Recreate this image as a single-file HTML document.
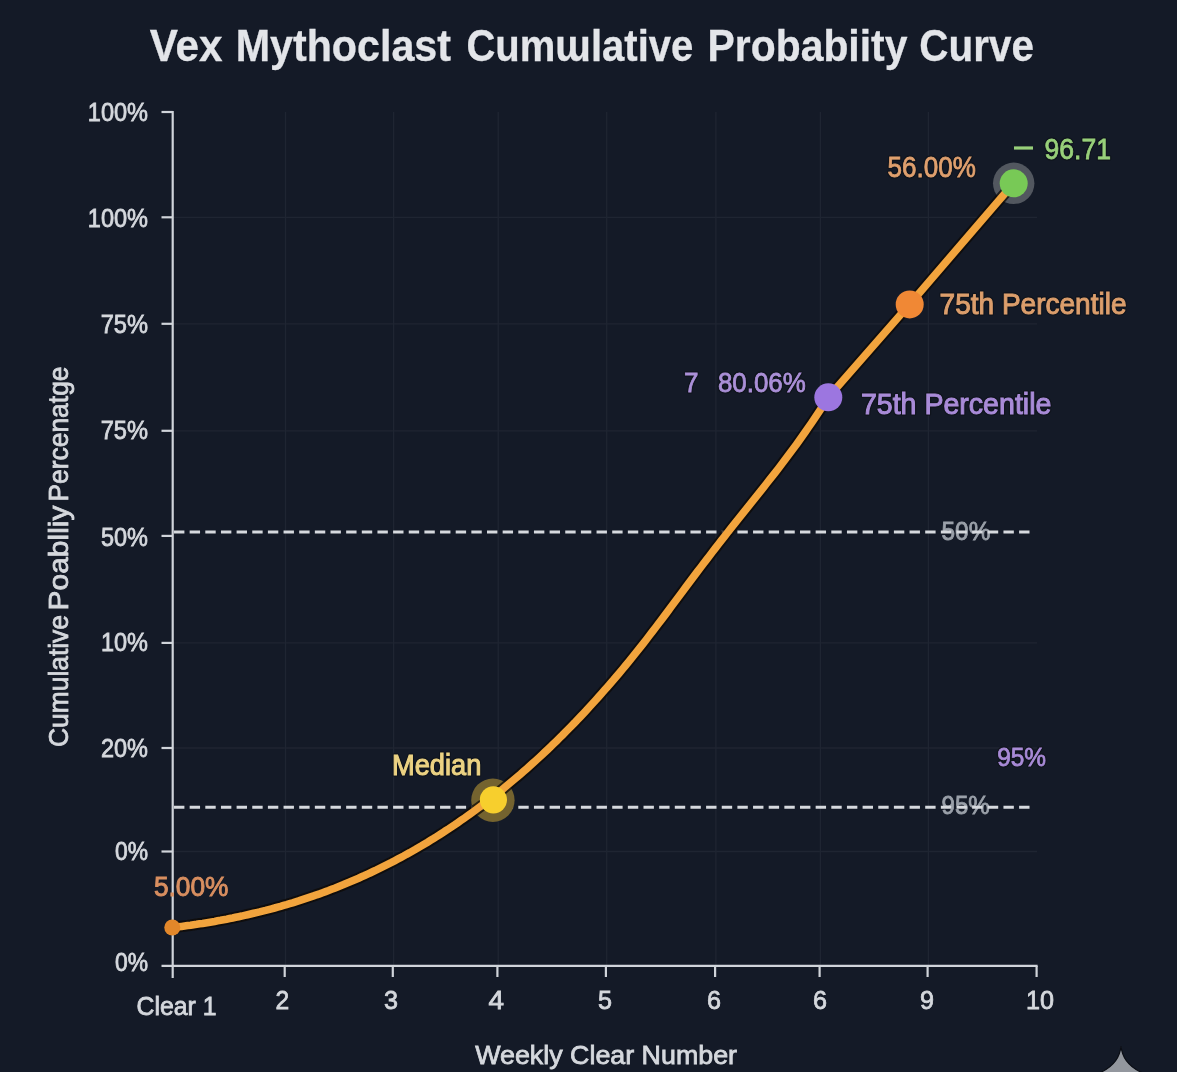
<!DOCTYPE html><html><head><meta charset="utf-8"><style>
html,body{margin:0;padding:0;background:#141a27;width:1177px;height:1072px;overflow:hidden}
svg{display:block;will-change:transform}text{font-family:"Liberation Sans",sans-serif}
</style></head><body>
<svg width="1177" height="1072" viewBox="0 0 1177 1072">
<rect width="1177" height="1072" fill="#141a27"/>
<line x1="172.7" y1="217.3" x2="1037" y2="217.3" stroke="#1f2532" stroke-width="1.3"/>
<line x1="172.7" y1="323.8" x2="1037" y2="323.8" stroke="#1f2532" stroke-width="1.3"/>
<line x1="172.7" y1="430.8" x2="1037" y2="430.8" stroke="#1f2532" stroke-width="1.3"/>
<line x1="172.7" y1="642.9" x2="1037" y2="642.9" stroke="#1f2532" stroke-width="1.3"/>
<line x1="172.7" y1="748" x2="1037" y2="748" stroke="#1f2532" stroke-width="1.3"/>
<line x1="172.7" y1="851.5" x2="1037" y2="851.5" stroke="#1f2532" stroke-width="1.3"/>
<line x1="285.5" y1="112" x2="285.5" y2="965.9" stroke="#1f2532" stroke-width="1.3"/>
<line x1="393.6" y1="112" x2="393.6" y2="965.9" stroke="#1f2532" stroke-width="1.3"/>
<line x1="498.2" y1="112" x2="498.2" y2="965.9" stroke="#1f2532" stroke-width="1.3"/>
<line x1="606.6999999999999" y1="112" x2="606.6999999999999" y2="965.9" stroke="#1f2532" stroke-width="1.3"/>
<line x1="715.9" y1="112" x2="715.9" y2="965.9" stroke="#1f2532" stroke-width="1.3"/>
<line x1="820.4" y1="112" x2="820.4" y2="965.9" stroke="#1f2532" stroke-width="1.3"/>
<line x1="928.4" y1="112" x2="928.4" y2="965.9" stroke="#1f2532" stroke-width="1.3"/>
<line x1="172.7" y1="111" x2="172.7" y2="978" stroke="#d0d4da" stroke-width="2.2"/>
<line x1="161.5" y1="965.9" x2="1037.6" y2="965.9" stroke="#d0d4da" stroke-width="2.2"/>
<line x1="161.5" y1="112" x2="172.7" y2="112" stroke="#d0d4da" stroke-width="2.2"/>
<line x1="161.5" y1="217.3" x2="172.7" y2="217.3" stroke="#d0d4da" stroke-width="2.2"/>
<line x1="161.5" y1="323.8" x2="172.7" y2="323.8" stroke="#d0d4da" stroke-width="2.2"/>
<line x1="161.5" y1="430.8" x2="172.7" y2="430.8" stroke="#d0d4da" stroke-width="2.2"/>
<line x1="161.5" y1="535.9" x2="172.7" y2="535.9" stroke="#d0d4da" stroke-width="2.2"/>
<line x1="161.5" y1="642.9" x2="172.7" y2="642.9" stroke="#d0d4da" stroke-width="2.2"/>
<line x1="161.5" y1="748" x2="172.7" y2="748" stroke="#d0d4da" stroke-width="2.2"/>
<line x1="161.5" y1="851.5" x2="172.7" y2="851.5" stroke="#d0d4da" stroke-width="2.2"/>
<line x1="284.7" y1="965.9" x2="284.7" y2="977" stroke="#d0d4da" stroke-width="2.2"/>
<line x1="392.8" y1="965.9" x2="392.8" y2="977" stroke="#d0d4da" stroke-width="2.2"/>
<line x1="497.4" y1="965.9" x2="497.4" y2="977" stroke="#d0d4da" stroke-width="2.2"/>
<line x1="605.9" y1="965.9" x2="605.9" y2="977" stroke="#d0d4da" stroke-width="2.2"/>
<line x1="715.1" y1="965.9" x2="715.1" y2="977" stroke="#d0d4da" stroke-width="2.2"/>
<line x1="819.6" y1="965.9" x2="819.6" y2="977" stroke="#d0d4da" stroke-width="2.2"/>
<line x1="927.6" y1="965.9" x2="927.6" y2="977" stroke="#d0d4da" stroke-width="2.2"/>
<line x1="1036.6" y1="965.9" x2="1036.6" y2="977" stroke="#d0d4da" stroke-width="2.2"/>
<text x="941.5" y="540.1" font-size="25.5" fill="#9aa0a9" font-weight="normal" textLength="48.9" lengthAdjust="spacingAndGlyphs" stroke="#9aa0a9" stroke-width="0.8" >50%</text>
<text x="941.5" y="814.3" font-size="25.5" fill="#9aa0a9" font-weight="normal" textLength="48.2" lengthAdjust="spacingAndGlyphs" stroke="#9aa0a9" stroke-width="0.8" >95%</text>
<line x1="174" y1="532" x2="1031" y2="532" stroke="#d6d9de" stroke-width="3" stroke-dasharray="10.4 5.25"/>
<line x1="174" y1="807.2" x2="1031" y2="807.2" stroke="#d6d9de" stroke-width="3" stroke-dasharray="10.4 5.25"/>
<text x="149.7" y="60.5" font-size="44.5" fill="#e3e5e9" font-weight="bold" textLength="72.9" lengthAdjust="spacingAndGlyphs" stroke="#e3e5e9" stroke-width="0.3" >Vex</text>
<text x="235.7" y="60.5" font-size="44.5" fill="#e3e5e9" font-weight="bold" textLength="215.3" lengthAdjust="spacingAndGlyphs" stroke="#e3e5e9" stroke-width="0.3" >Mythoclast</text>
<text x="466.4" y="60.5" font-size="44.5" fill="#e3e5e9" font-weight="bold" textLength="226.9" lengthAdjust="spacingAndGlyphs" stroke="#e3e5e9" stroke-width="0.3" >Cumɯlative</text>
<text x="707.6" y="60.5" font-size="44.5" fill="#e3e5e9" font-weight="bold" textLength="199.8" lengthAdjust="spacingAndGlyphs" stroke="#e3e5e9" stroke-width="0.3" >Probabiity</text>
<text x="919.3" y="60.5" font-size="44.5" fill="#e3e5e9" font-weight="bold" textLength="114.6" lengthAdjust="spacingAndGlyphs" stroke="#e3e5e9" stroke-width="0.3" >Curve</text>
<text x="87.8" y="120.5" font-size="25.5" fill="#d5d8dd" font-weight="normal" textLength="60.2" lengthAdjust="spacingAndGlyphs" stroke="#d5d8dd" stroke-width="0.8" >100%</text>
<text x="87.8" y="226.9" font-size="25.5" fill="#d5d8dd" font-weight="normal" textLength="60.2" lengthAdjust="spacingAndGlyphs" stroke="#d5d8dd" stroke-width="0.8" >100%</text>
<text x="100.7" y="332.9" font-size="25.5" fill="#d5d8dd" font-weight="normal" textLength="47.3" lengthAdjust="spacingAndGlyphs" stroke="#d5d8dd" stroke-width="0.8" >75%</text>
<text x="100.7" y="439.2" font-size="25.5" fill="#d5d8dd" font-weight="normal" textLength="47.3" lengthAdjust="spacingAndGlyphs" stroke="#d5d8dd" stroke-width="0.8" >75%</text>
<text x="101.0" y="546.4" font-size="25.5" fill="#d5d8dd" font-weight="normal" textLength="47.0" lengthAdjust="spacingAndGlyphs" stroke="#d5d8dd" stroke-width="0.8" >50%</text>
<text x="101.0" y="651.3" font-size="25.5" fill="#d5d8dd" font-weight="normal" textLength="47.0" lengthAdjust="spacingAndGlyphs" stroke="#d5d8dd" stroke-width="0.8" >10%</text>
<text x="101.0" y="757.0" font-size="25.5" fill="#d5d8dd" font-weight="normal" textLength="47.0" lengthAdjust="spacingAndGlyphs" stroke="#d5d8dd" stroke-width="0.8" >20%</text>
<text x="115.0" y="859.9" font-size="25.5" fill="#d5d8dd" font-weight="normal" textLength="33.0" lengthAdjust="spacingAndGlyphs" stroke="#d5d8dd" stroke-width="0.8" >0%</text>
<text x="115.0" y="971.0" font-size="25.5" fill="#d5d8dd" font-weight="normal" textLength="33.0" lengthAdjust="spacingAndGlyphs" stroke="#d5d8dd" stroke-width="0.8" >0%</text>
<text x="136.5" y="1014.6" font-size="26" fill="#d5d8dd" font-weight="normal" textLength="80.0" lengthAdjust="spacingAndGlyphs" stroke="#d5d8dd" stroke-width="0.8" >Clear 1</text>
<text x="275.5" y="1008.7" font-size="26" fill="#d5d8dd" font-weight="normal" textLength="13.7" lengthAdjust="spacingAndGlyphs" stroke="#d5d8dd" stroke-width="0.8" >2</text>
<text x="384.1" y="1008.7" font-size="26" fill="#d5d8dd" font-weight="normal" textLength="14.0" lengthAdjust="spacingAndGlyphs" stroke="#d5d8dd" stroke-width="0.8" >3</text>
<text x="488.6" y="1008.7" font-size="26" fill="#d5d8dd" font-weight="normal" textLength="15.5" lengthAdjust="spacingAndGlyphs" stroke="#d5d8dd" stroke-width="0.8" >4</text>
<text x="598.0" y="1008.7" font-size="26" fill="#d5d8dd" font-weight="normal" textLength="14.0" lengthAdjust="spacingAndGlyphs" stroke="#d5d8dd" stroke-width="0.8" >5</text>
<text x="707.0" y="1008.7" font-size="26" fill="#d5d8dd" font-weight="normal" textLength="14.0" lengthAdjust="spacingAndGlyphs" stroke="#d5d8dd" stroke-width="0.8" >6</text>
<text x="813.0" y="1008.7" font-size="26" fill="#d5d8dd" font-weight="normal" textLength="14.0" lengthAdjust="spacingAndGlyphs" stroke="#d5d8dd" stroke-width="0.8" >6</text>
<text x="920.0" y="1008.7" font-size="26" fill="#d5d8dd" font-weight="normal" textLength="14.0" lengthAdjust="spacingAndGlyphs" stroke="#d5d8dd" stroke-width="0.8" >9</text>
<text x="1026.0" y="1008.7" font-size="26" fill="#d5d8dd" font-weight="normal" textLength="28.0" lengthAdjust="spacingAndGlyphs" stroke="#d5d8dd" stroke-width="0.8" >10</text>
<text x="475.2" y="1064.0" font-size="26" fill="#d5d8dd" font-weight="normal" textLength="261.8" lengthAdjust="spacingAndGlyphs" stroke="#d5d8dd" stroke-width="0.8" >Weekly Clear Number</text>
<text transform="translate(68.3,747) rotate(-90)" x="0" y="0" font-size="27.8" fill="#d5d8dd" stroke="#d5d8dd" stroke-width="0.8" textLength="132" lengthAdjust="spacingAndGlyphs">Cumulative</text>
<text transform="translate(68.3,610.5) rotate(-90)" x="0" y="0" font-size="27.8" fill="#d5d8dd" stroke="#d5d8dd" stroke-width="0.8" textLength="105" lengthAdjust="spacingAndGlyphs">Poablliy</text>
<text transform="translate(68.3,501.5) rotate(-90)" x="0" y="0" font-size="27.8" fill="#d5d8dd" stroke="#d5d8dd" stroke-width="0.8" textLength="135" lengthAdjust="spacingAndGlyphs">Percenatge</text>
<circle cx="492.9" cy="800.2" r="21.7" fill="#74632f"/>
<circle cx="1013.7" cy="183.3" r="20.7" fill="#52575f"/>
<path d="M172.6,927.5 L175.6,927.1 L178.6,926.8 L181.6,926.4 L184.6,926.0 L187.6,925.6 L190.6,925.2 L193.6,924.7 L196.6,924.3 L199.6,923.8 L202.6,923.4 L205.6,922.9 L208.6,922.4 L211.6,921.9 L214.6,921.4 L217.6,920.8 L220.6,920.3 L223.6,919.7 L226.6,919.2 L229.6,918.6 L232.6,918.0 L235.6,917.3 L238.6,916.7 L241.6,916.1 L244.6,915.4 L247.6,914.7 L250.6,914.0 L253.6,913.3 L256.6,912.6 L259.6,911.9 L262.6,911.1 L265.6,910.4 L268.6,909.6 L271.6,908.8 L274.6,908.0 L277.6,907.1 L280.6,906.3 L283.6,905.4 L286.6,904.6 L289.6,903.7 L292.6,902.8 L295.6,901.8 L298.6,900.9 L301.6,899.9 L304.6,898.9 L307.6,897.9 L310.6,896.9 L313.6,895.9 L316.6,894.8 L319.6,893.8 L322.6,892.7 L325.6,891.6 L328.6,890.5 L331.6,889.3 L334.6,888.2 L337.6,887.0 L340.6,885.8 L343.6,884.6 L346.6,883.3 L349.6,882.1 L352.6,880.8 L355.6,879.5 L358.6,878.2 L361.6,876.8 L364.6,875.5 L367.6,874.1 L370.6,872.7 L373.6,871.3 L376.6,869.9 L379.6,868.4 L382.6,866.9 L385.6,865.4 L388.6,863.9 L391.6,862.4 L394.6,860.8 L397.6,859.2 L400.6,857.6 L403.6,856.0 L406.6,854.3 L409.6,852.7 L412.6,851.0 L415.6,849.3 L418.6,847.5 L421.6,845.8 L424.6,844.0 L427.6,842.2 L430.6,840.3 L433.6,838.5 L436.6,836.6 L439.6,834.7 L442.6,832.8 L445.6,830.8 L448.6,828.9 L451.6,826.9 L454.6,824.9 L457.6,822.8 L460.6,820.7 L463.6,818.7 L466.6,816.5 L469.6,814.4 L472.6,812.2 L475.6,810.0 L478.6,807.8 L481.6,805.6 L484.6,803.3 L487.6,801.0 L490.6,798.7 L493.6,796.4 L496.6,794.0 L499.6,791.6 L502.6,789.2 L505.6,786.7 L508.6,784.2 L511.6,781.7 L514.6,779.2 L517.6,776.6 L520.6,774.1 L523.6,771.4 L526.6,768.8 L529.6,766.1 L532.6,763.4 L535.6,760.7 L538.6,758.0 L541.6,755.2 L544.6,752.4 L547.6,749.6 L550.6,746.7 L553.6,743.8 L556.6,740.9 L559.6,737.9 L562.6,735.0 L565.6,731.9 L568.6,728.9 L571.6,725.8 L574.6,722.8 L577.6,719.6 L580.6,716.5 L583.6,713.3 L586.6,710.1 L589.6,706.8 L592.6,703.5 L595.6,700.2 L598.6,696.9 L601.6,693.5 L604.6,690.1 L607.6,686.7 L610.6,683.2 L613.6,679.8 L616.6,676.2 L619.6,672.7 L622.6,669.1 L625.6,665.5 L628.6,661.8 L631.6,658.1 L634.6,654.4 L637.6,650.7 L640.6,646.9 L643.6,643.1 L646.6,639.2 L649.6,635.3 L652.6,631.4 L655.6,627.5 L658.6,623.5 L661.6,619.6 L664.6,615.6 L667.6,611.6 L670.6,607.5 L673.6,603.5 L676.6,599.5 L679.6,595.5 L682.6,591.4 L685.6,587.4 L688.6,583.4 L691.6,579.4 L694.6,575.4 L697.6,571.4 L700.6,567.5 L703.6,563.5 L706.6,559.6 L709.6,555.7 L712.6,551.8 L715.6,547.9 L718.6,544.0 L721.6,540.1 L724.6,536.3 L727.6,532.5 L730.6,528.7 L733.6,524.9 L736.6,521.1 L739.6,517.4 L742.6,513.6 L745.6,509.9 L748.6,506.1 L751.6,502.4 L754.6,498.6 L757.6,494.9 L760.6,491.1 L763.6,487.3 L766.6,483.5 L769.6,479.7 L772.6,475.9 L775.6,472.1 L778.6,468.2 L781.6,464.3 L784.6,460.3 L787.6,456.3 L790.6,452.3 L793.6,448.3 L796.6,444.2 L799.6,440.0 L802.6,435.8 L805.6,431.5 L808.6,427.2 L811.6,422.9 L814.6,418.4 L817.6,413.9 L820.6,409.4 L823.6,404.7 L826.6,400.0 L828.3,397.3 L909.7,304.2 L1013.7,183.2" fill="none" stroke="#0d0905" stroke-width="11.5" stroke-linecap="round" opacity="0.75"/>
<path d="M172.6,927.5 L175.6,927.1 L178.6,926.8 L181.6,926.4 L184.6,926.0 L187.6,925.6 L190.6,925.2 L193.6,924.7 L196.6,924.3 L199.6,923.8 L202.6,923.4 L205.6,922.9 L208.6,922.4 L211.6,921.9 L214.6,921.4 L217.6,920.8 L220.6,920.3 L223.6,919.7 L226.6,919.2 L229.6,918.6 L232.6,918.0 L235.6,917.3 L238.6,916.7 L241.6,916.1 L244.6,915.4 L247.6,914.7 L250.6,914.0 L253.6,913.3 L256.6,912.6 L259.6,911.9 L262.6,911.1 L265.6,910.4 L268.6,909.6 L271.6,908.8 L274.6,908.0 L277.6,907.1 L280.6,906.3 L283.6,905.4 L286.6,904.6 L289.6,903.7 L292.6,902.8 L295.6,901.8 L298.6,900.9 L301.6,899.9 L304.6,898.9 L307.6,897.9 L310.6,896.9 L313.6,895.9 L316.6,894.8 L319.6,893.8 L322.6,892.7 L325.6,891.6 L328.6,890.5 L331.6,889.3 L334.6,888.2 L337.6,887.0 L340.6,885.8 L343.6,884.6 L346.6,883.3 L349.6,882.1 L352.6,880.8 L355.6,879.5 L358.6,878.2 L361.6,876.8 L364.6,875.5 L367.6,874.1 L370.6,872.7 L373.6,871.3 L376.6,869.9 L379.6,868.4 L382.6,866.9 L385.6,865.4 L388.6,863.9 L391.6,862.4 L394.6,860.8 L397.6,859.2 L400.6,857.6 L403.6,856.0 L406.6,854.3 L409.6,852.7 L412.6,851.0 L415.6,849.3 L418.6,847.5 L421.6,845.8 L424.6,844.0 L427.6,842.2 L430.6,840.3 L433.6,838.5 L436.6,836.6 L439.6,834.7 L442.6,832.8 L445.6,830.8 L448.6,828.9 L451.6,826.9 L454.6,824.9 L457.6,822.8 L460.6,820.7 L463.6,818.7 L466.6,816.5 L469.6,814.4 L472.6,812.2 L475.6,810.0 L478.6,807.8 L481.6,805.6 L484.6,803.3 L487.6,801.0 L490.6,798.7 L493.6,796.4 L496.6,794.0 L499.6,791.6 L502.6,789.2 L505.6,786.7 L508.6,784.2 L511.6,781.7 L514.6,779.2 L517.6,776.6 L520.6,774.1 L523.6,771.4 L526.6,768.8 L529.6,766.1 L532.6,763.4 L535.6,760.7 L538.6,758.0 L541.6,755.2 L544.6,752.4 L547.6,749.6 L550.6,746.7 L553.6,743.8 L556.6,740.9 L559.6,737.9 L562.6,735.0 L565.6,731.9 L568.6,728.9 L571.6,725.8 L574.6,722.8 L577.6,719.6 L580.6,716.5 L583.6,713.3 L586.6,710.1 L589.6,706.8 L592.6,703.5 L595.6,700.2 L598.6,696.9 L601.6,693.5 L604.6,690.1 L607.6,686.7 L610.6,683.2 L613.6,679.8 L616.6,676.2 L619.6,672.7 L622.6,669.1 L625.6,665.5 L628.6,661.8 L631.6,658.1 L634.6,654.4 L637.6,650.7 L640.6,646.9 L643.6,643.1 L646.6,639.2 L649.6,635.3 L652.6,631.4 L655.6,627.5 L658.6,623.5 L661.6,619.6 L664.6,615.6 L667.6,611.6 L670.6,607.5 L673.6,603.5 L676.6,599.5 L679.6,595.5 L682.6,591.4 L685.6,587.4 L688.6,583.4 L691.6,579.4 L694.6,575.4 L697.6,571.4 L700.6,567.5 L703.6,563.5 L706.6,559.6 L709.6,555.7 L712.6,551.8 L715.6,547.9 L718.6,544.0 L721.6,540.1 L724.6,536.3 L727.6,532.5 L730.6,528.7 L733.6,524.9 L736.6,521.1 L739.6,517.4 L742.6,513.6 L745.6,509.9 L748.6,506.1 L751.6,502.4 L754.6,498.6 L757.6,494.9 L760.6,491.1 L763.6,487.3 L766.6,483.5 L769.6,479.7 L772.6,475.9 L775.6,472.1 L778.6,468.2 L781.6,464.3 L784.6,460.3 L787.6,456.3 L790.6,452.3 L793.6,448.3 L796.6,444.2 L799.6,440.0 L802.6,435.8 L805.6,431.5 L808.6,427.2 L811.6,422.9 L814.6,418.4 L817.6,413.9 L820.6,409.4 L823.6,404.7 L826.6,400.0 L828.3,397.3 L909.7,304.2 L1013.7,183.2" fill="none" stroke="#f2a43d" stroke-width="7.6" stroke-linecap="round"/>
<circle cx="172.3" cy="927.5" r="8" fill="#e2872a"/>
<circle cx="493.4" cy="799.8" r="13.6" fill="#f7cf2d"/>
<circle cx="828.3" cy="397.3" r="14" fill="#9c76e0"/>
<circle cx="909.7" cy="304.4" r="14" fill="#f08835"/>
<circle cx="1013.7" cy="183.3" r="14" fill="#78c956"/>
<text x="153.9" y="896.2" font-size="27" fill="#d98f60" font-weight="normal" textLength="74.5" lengthAdjust="spacingAndGlyphs" stroke="#d98f60" stroke-width="0.9" >5.00%</text>
<text x="392.0" y="774.7" font-size="29" fill="#0f131b" font-weight="normal" textLength="89.3" lengthAdjust="spacingAndGlyphs" stroke="#0f131b" stroke-width="3.5" stroke-linejoin="round" opacity="0.85">Median</text>
<text x="392.0" y="774.7" font-size="29" fill="#ecd283" font-weight="normal" textLength="89.3" lengthAdjust="spacingAndGlyphs" stroke="#ecd283" stroke-width="1.1" >Median</text>
<text x="684.0" y="391.6" font-size="27.5" fill="#0f131b" font-weight="normal" textLength="14.5" lengthAdjust="spacingAndGlyphs" stroke="#0f131b" stroke-width="3.5" stroke-linejoin="round" opacity="0.85">7</text>
<text x="684.0" y="391.6" font-size="27.5" fill="#ab90d8" font-weight="normal" textLength="14.5" lengthAdjust="spacingAndGlyphs" stroke="#ab90d8" stroke-width="0.8" >7</text>
<text x="717.9" y="391.6" font-size="27.5" fill="#0f131b" font-weight="normal" textLength="87.9" lengthAdjust="spacingAndGlyphs" stroke="#0f131b" stroke-width="3.5" stroke-linejoin="round" opacity="0.85">80.06%</text>
<text x="717.9" y="391.6" font-size="27.5" fill="#ab90d8" font-weight="normal" textLength="87.9" lengthAdjust="spacingAndGlyphs" stroke="#ab90d8" stroke-width="0.8" >80.06%</text>
<text x="860.9" y="413.8" font-size="29" fill="#0f131b" font-weight="normal" textLength="190.5" lengthAdjust="spacingAndGlyphs" stroke="#0f131b" stroke-width="3.5" stroke-linejoin="round" opacity="0.85">75th Percentile</text>
<text x="860.9" y="413.8" font-size="29" fill="#a98bd8" font-weight="normal" textLength="190.5" lengthAdjust="spacingAndGlyphs" stroke="#a98bd8" stroke-width="1.0" >75th Percentile</text>
<text x="939.6" y="313.9" font-size="29" fill="#0f131b" font-weight="normal" textLength="186.9" lengthAdjust="spacingAndGlyphs" stroke="#0f131b" stroke-width="3.5" stroke-linejoin="round" opacity="0.85">75th Percentile</text>
<text x="939.6" y="313.9" font-size="29" fill="#dc9e6c" font-weight="normal" textLength="186.9" lengthAdjust="spacingAndGlyphs" stroke="#dc9e6c" stroke-width="1.0" >75th Percentile</text>
<text x="887.6" y="177.0" font-size="29" fill="#0f131b" font-weight="normal" textLength="88.3" lengthAdjust="spacingAndGlyphs" stroke="#0f131b" stroke-width="3.5" stroke-linejoin="round" opacity="0.85">56.00%</text>
<text x="887.6" y="177.0" font-size="29" fill="#e0a06e" font-weight="normal" textLength="88.3" lengthAdjust="spacingAndGlyphs" stroke="#e0a06e" stroke-width="0.8" >56.00%</text>
<line x1="1014" y1="148" x2="1033" y2="148" stroke="#98d07a" stroke-width="3.2"/>
<text x="997.2" y="766.4" font-size="26" fill="#0f131b" font-weight="normal" textLength="48.9" lengthAdjust="spacingAndGlyphs" stroke="#0f131b" stroke-width="3.5" stroke-linejoin="round" opacity="0.85">95%</text>
<text x="997.2" y="766.4" font-size="26" fill="#a98bd8" font-weight="normal" textLength="48.9" lengthAdjust="spacingAndGlyphs" stroke="#a98bd8" stroke-width="0.8" >95%</text>
<text x="1044.5" y="158.6" font-size="29" fill="#0f131b" font-weight="normal" textLength="66.4" lengthAdjust="spacingAndGlyphs" stroke="#0f131b" stroke-width="3.5" stroke-linejoin="round" opacity="0.85">96.71</text>
<text x="1044.5" y="158.6" font-size="29" fill="#98d07a" font-weight="normal" textLength="66.4" lengthAdjust="spacingAndGlyphs" stroke="#98d07a" stroke-width="0.8" >96.71</text>
<path d="M1121,1046 C1122,1057 1128,1067 1144,1073.5 L1160,1080 L1082,1080 L1098,1073.5 C1114,1067 1120,1057 1121,1046 Z" fill="#93979e" stroke="#0b0e15" stroke-width="1.2"/>
</svg></body></html>
